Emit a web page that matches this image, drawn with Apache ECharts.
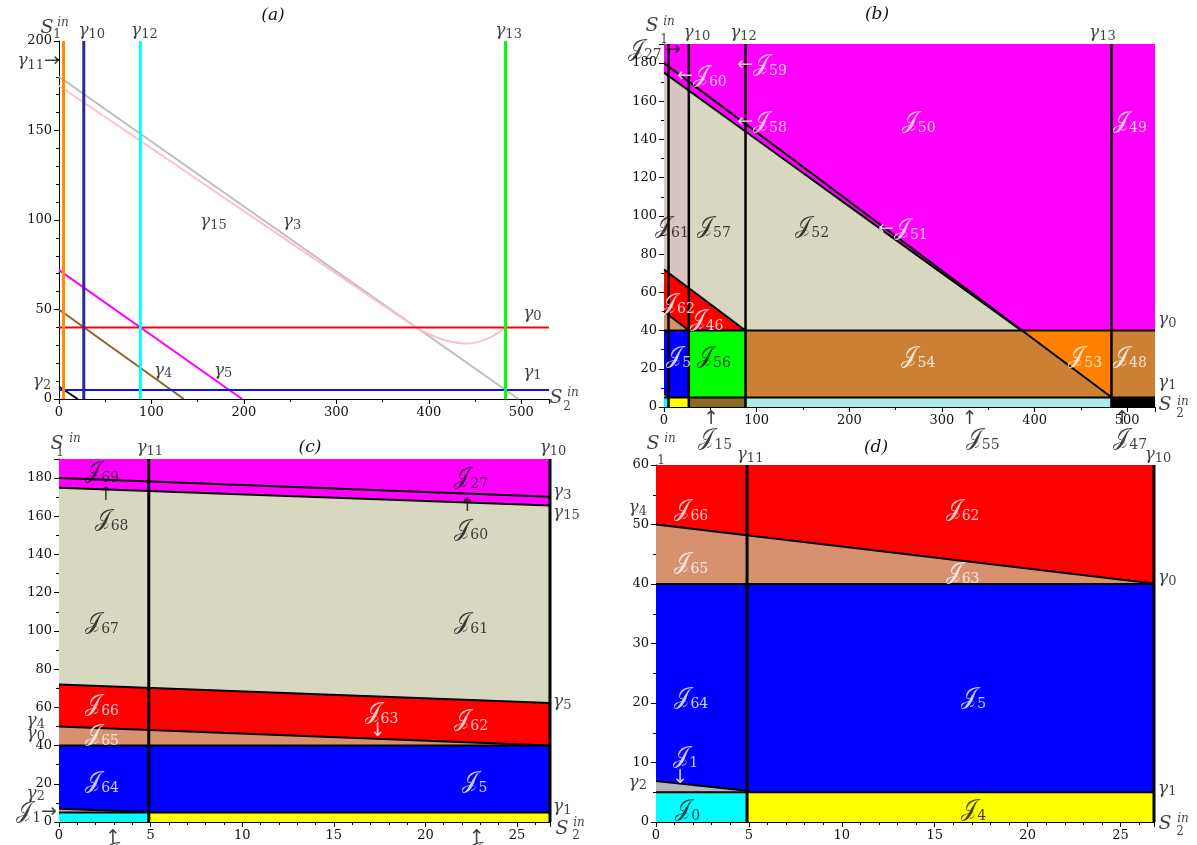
<!DOCTYPE html>
<html>
<head>
<meta charset="utf-8">
<script src="https://cdn.jsdelivr.net/npm/echarts@6/dist/echarts.min.js"></script>
<style>html,body{margin:0;background:#fff}#main{width:1197px;height:845px}</style>
</head>
<body>
<div id="main"></div>
<script>
// curves, as (S2in, S1in) pairs
const gamma2 = [[0, 6.9], [20.3, 0]];
const gamma3 = [[0, 180], [497, 0]];
const gamma4 = [[0, 50], [135, 0]];
const gamma5 = [[0, 72], [198, 0]];
const gamma15 = [[0, 175], [100, 140], [200, 105], [300, 70], [386, 40], [400, 36.3], [415, 33.2],
  [430, 31.4], [440, 31], [450, 31.5], [460, 33], [470, 35.4], [483, 40]];
// horizontal levels and vertical lines
const gamma0 = 40, gamma1 = 5;
const gamma11 = 4.9, gamma10 = 26.8, gamma12 = 88, gamma13 = 483;
const S2max = 530;
const S1maxA = 200, S1maxB = 190, S1maxC = 190, S1maxD = 60;

const C = {
  magenta: '#ff00ff', beige: '#d8d7bf', rose: '#d9c4c2', red: '#ff0000', salmon: '#d8916f',
  blue: '#0000ff', green: '#00ff00', peru: '#cc8033', orange: '#ff8000', gray: '#b4b4bf',
  cyan: '#00ffff', yellow: '#ffff00', brown: '#8c6a24', turq: '#aeeaea', black: '#000000'
};

const myChart = echarts.init(document.getElementById('main'));

// linear interpolation along a polyline
function at(line, x) {
  for (let i = 1; i < line.length; i++) {
    const [x0, y0] = line[i - 1], [x1, y1] = line[i];
    if (x <= x1) return y0 + (y1 - y0) * (x - x0) / (x1 - x0);
  }
  return line[line.length - 1][1];
}
const rect = (x0, x1, y0, y1) => [[x0, y0], [x0, y1], [x1, y1], [x1, y0]];
const seg = (line, x0, x1) => [[x0, at(line, x0)], [x1, at(line, x1)]];
const xMeet = gamma15.find(p => p[1] === gamma0)[0];

const grayJ1 = [[0, gamma1], [0, at(gamma2, 0)], [gamma11, at(gamma2, gamma11)], [gamma11, gamma1]];

const regionsB = [
  [rect(0, S2max, gamma0, S1maxB), C.magenta],
  [[[0, gamma0]].concat(gamma15.filter(p => p[0] <= xMeet)), C.beige],
  [[[0, at(gamma5, 0)], [0, at(gamma15, 0)], [gamma10, at(gamma15, gamma10)], [gamma10, at(gamma5, gamma10)]], C.rose],
  [[[0, gamma0], [0, at(gamma5, 0)], [gamma12, at(gamma5, gamma12)]], C.red],
  [[[0, gamma0], [0, at(gamma4, 0)], [gamma10, at(gamma4, gamma10)], [gamma10, gamma0]], C.salmon],
  [rect(0, gamma10, gamma1, gamma0), C.blue],
  [rect(gamma10, gamma12, gamma1, gamma0), C.green],
  [rect(gamma12, S2max, gamma1, gamma0), C.peru],
  [[[xMeet, gamma0], [gamma13, gamma0], [gamma13, at(gamma3, gamma13)]], C.orange],
  [grayJ1, C.gray],
  [rect(0, gamma11, 0, gamma1), C.cyan],
  [rect(gamma11, gamma10, 0, gamma1), C.yellow],
  [rect(gamma10, gamma12, 0, gamma1), C.brown],
  [rect(gamma12, gamma13, 0, gamma1), C.turq],
  [rect(gamma13, S2max, 0, gamma1), C.black]
];

const regionsCD = [
  [rect(0, gamma10, gamma0, S1maxC), C.magenta],
  [[[0, at(gamma5, 0)], [0, at(gamma15, 0)], [gamma10, at(gamma15, gamma10)], [gamma10, at(gamma5, gamma10)]], C.beige],
  [[[0, gamma0], [0, at(gamma5, 0)], [gamma10, at(gamma5, gamma10)], [gamma10, gamma0]], C.red],
  [[[0, gamma0], [0, at(gamma4, 0)], [gamma10, at(gamma4, gamma10)], [gamma10, gamma0]], C.salmon],
  [rect(0, gamma10, gamma1, gamma0), C.blue],
  [grayJ1, C.gray],
  [rect(0, gamma11, 0, gamma1), C.cyan],
  [rect(gamma11, gamma10, 0, gamma1), C.yellow]
];

// text helpers
const J = n => `{J|𝒥}{n|${n}}`;
const G = n => `{g|γ}{gn|${n}}`;
const RICH = {
  J: { fontFamily: 'DejaVu Serif', fontSize: 23, lineHeight: 26 },
  n: { fontFamily: 'DejaVu Serif', fontSize: 14, lineHeight: 17, verticalAlign: 'bottom' },
  g: { fontFamily: 'DejaVu Serif', fontStyle: 'italic', fontSize: 17, lineHeight: 20 },
  gn: { fontFamily: 'DejaVu Serif', fontSize: 13, lineHeight: 14, verticalAlign: 'bottom' },
  ar: { fontFamily: 'DejaVu Sans', fontSize: 19, lineHeight: 22 },
  S: { fontFamily: 'DejaVu Serif', fontStyle: 'italic', fontSize: 19 },
  sm: { fontFamily: 'DejaVu Serif', fontStyle: 'italic', fontSize: 12 },
  sd: { fontFamily: 'DejaVu Serif', fontSize: 12 }
};
function sLabel(x, y, sub, s, i, d) {
  return [
    { t: '{S|S}', x, y, dx: s[0], dy: s[1] },
    { t: '{sm|in}', x, y, dx: i[0], dy: i[1] },
    { t: `{sd|${sub}}`, x, y, dx: d[0], dy: d[1] }
  ];
}

const W = '#ffffff';
const labelsA = [
  { t: G(10), x: gamma10, y: S1maxA, dx: 8, dy: -10 },
  { t: G(12), x: gamma12, y: S1maxA, dx: 4, dy: -10 },
  { t: G(13), x: gamma13, y: S1maxA, dx: 3, dy: -10 },
  { t: G(11) + '{ar|→}', x: 0, y: 189, al: 'right', dx: 1 },
  { t: G(15), x: 167, y: 99 },
  { t: G(3), x: 252, y: 99 },
  { t: G(4), x: 112.6, y: 16 },
  { t: G(5), x: 177.5, y: 16 },
  { t: G(2), x: 0, y: 9.5, dx: -17 },
  { t: G(0), x: 512, y: 48 },
  { t: G(1), x: 512, y: 15 }
].concat(sLabel(0, S1maxA, 1, [-12, -13], [4, -18], [-2, -6]),
  sLabel(S2max, 0, 2, [7, -1], [24, -6], [18, 8]));

const labelsB = [
  { t: J(27) + ' {ar|→}', x: 0, y: 187, al: 'right', dx: 17 },
  { t: G(10), x: gamma10, y: S1maxB, dx: 8, dy: -11 },
  { t: G(12), x: gamma12, y: S1maxB, dx: -2, dy: -11 },
  { t: G(13), x: gamma13, y: S1maxB, dx: -9, dy: -11 },
  { t: '{ar|←}' + J(60), x: 14, y: 173, al: 'left', c: W },
  { t: '{ar|←}' + J(59), x: 79, y: 179, al: 'left', c: W },
  { t: '{ar|←}' + J(58), x: 79, y: 149, al: 'left', c: W },
  { t: J(50), x: 275, y: 149, c: W },
  { t: J(49), x: 503, y: 149, c: W },
  { t: J(61), x: 8.6, y: 94 },
  { t: J(57), x: 54, y: 94 },
  { t: J(52), x: 160, y: 94 },
  { t: '{ar|←}' + J(51), x: 231, y: 93, al: 'left', c: W },
  { t: J(62), x: 15, y: 54, c: W },
  { t: J(46), x: 46, y: 45.5, c: W },
  { t: J(5), x: 16, y: 26, c: W },
  { t: J(56), x: 54, y: 26 },
  { t: J(54), x: 274.6, y: 26, c: W },
  { t: J(53), x: 454.6, y: 26, c: W },
  { t: J(48), x: 503, y: 26, c: W },
  { t: G(0), x: S2max, y: 45.5, al: 'left', dx: 3 },
  { t: G(1), x: S2max, y: 13, al: 'left', dx: 3 },
  { t: '{ar|↑}', x: 51, y: 0, dy: 12 },
  { t: J(15), x: 51, y: 0, dx: 4, dy: 32 },
  { t: '{ar|↑}', x: 330, y: 0, dy: 12 },
  { t: J(55), x: 330, y: 0, dx: 13, dy: 32 },
  { t: '{ar|↑}', x: 494.6, y: 0, dy: 12 },
  { t: J(47), x: 494.6, y: 0, dx: 8, dy: 32 }
].concat(sLabel(0, S1maxB, 1, [-12, -18], [5, -22], [0, -4]),
  sLabel(S2max, 0, 2, [10, -2], [28, -5], [25, 7]));

const labelsC = [
  { t: G(11), x: gamma11, y: S1maxC, dx: 1, dy: -11 },
  { t: G(10), x: gamma10, y: S1maxC, dx: 3, dy: -11 },
  { t: J(69), x: 2.35, y: 183 },
  { t: '{ar|↑}', x: 2.56, y: 171 },
  { t: J(68), x: 2.87, y: 158 },
  { t: J(27), x: 22.5, y: 180 },
  { t: '{ar|↑}', x: 22.3, y: 165.4 },
  { t: J(60), x: 22.5, y: 153 },
  { t: J(67), x: 2.35, y: 104 },
  { t: J(61), x: 22.5, y: 104 },
  { t: J(66), x: 2.35, y: 61, c: W },
  { t: J(65), x: 2.35, y: 45.5, c: W },
  { t: J(63), x: 17.6, y: 57, c: W },
  { t: '{ar|↓}', x: 17.4, y: 47.6, c: W },
  { t: J(62), x: 22.5, y: 53.4, c: W },
  { t: J(64), x: 2.35, y: 21, c: W },
  { t: J(5), x: 22.7, y: 21, c: W },
  { t: J(1) + '{ar|→}', x: 0, y: 5.2, al: 'right', dx: -2 },
  { t: G(4), x: 0, y: 53, al: 'right', dx: -14 },
  { t: G(0), x: 0, y: 46.5, al: 'right', dx: -14 },
  { t: G(2), x: 0, y: 15, al: 'right', dx: -14 },
  { t: G(3), x: gamma10, y: 172.7, al: 'left', dx: 3 },
  { t: G(15), x: gamma10, y: 162, al: 'left', dx: 3 },
  { t: G(5), x: gamma10, y: 63, al: 'left', dx: 3 },
  { t: G(1), x: gamma10, y: 8, al: 'left', dx: 3 },
  { t: '{ar|↑}', x: 2.95, y: 0, dy: 16 },
  { t: J(0), x: 2.95, y: 0, dy: 31 },
  { t: '{ar|↑}', x: 22.8, y: 0, dy: 16 },
  { t: J(4), x: 22.8, y: 0, dy: 31 }
].concat(sLabel(0, S1maxC, 1, [-2, -15], [16, -20], [1, -6]),
  sLabel(gamma10, 0, 2, [12, 7], [29, 1], [26, 14]));

const labelsD = [
  { t: G(11), x: gamma11, y: S1maxD, dx: 3, dy: -10 },
  { t: G(10), x: gamma10, y: S1maxD, dx: 4, dy: -10 },
  { t: J(66), x: 1.9, y: 52.4, c: W },
  { t: J(62), x: 16.5, y: 52.4, c: W },
  { t: J(65), x: 1.9, y: 43.5, c: W },
  { t: J(63), x: 16.5, y: 41.8, c: W },
  { t: J(64), x: 1.9, y: 20.8, c: W },
  { t: J(5), x: 17.1, y: 20.8, c: W },
  { t: J(1), x: 1.6, y: 10.9, c: W },
  { t: '{ar|↓}', x: 1.3, y: 7.4, c: W },
  { t: J(0), x: 1.7, y: 2 },
  { t: J(4), x: 17.1, y: 2 },
  { t: G(4), x: 0, y: 52.8, al: 'right', dx: -9 },
  { t: G(2), x: 0, y: 6.7, al: 'right', dx: -9 },
  { t: G(0), x: gamma10, y: 41, al: 'left', dx: 4 },
  { t: G(1), x: gamma10, y: 5.7, al: 'left', dx: 4 }
].concat(sLabel(0, S1maxD, 1, [-3, -21], [14, -26], [5, -4]),
  sLabel(gamma10, 0, 2, [11, 2], [29, -3], [26, 10]));

// ---- series builders
function regionSeries(g, regions) {
  return {
    type: 'custom', xAxisIndex: g, yAxisIndex: g, clip: true, silent: true, z: 1,
    data: regions.map(r => r[0][0]),
    renderItem: (params, api) => {
      const r = regions[params.dataIndex];
      return {
        type: 'polygon',
        shape: { points: r[0].map(p => api.coord(p)) },
        style: { fill: r[1], stroke: r[1], lineWidth: 0.6 }
      };
    }
  };
}
function lineSeries(g, data, color, width, opts) {
  return Object.assign({
    type: 'line', xAxisIndex: g, yAxisIndex: g, data, symbol: 'none', silent: true, z: 3,
    lineStyle: { color, width }
  }, opts || {});
}
const vline = (g, x, ymax, color, width) => lineSeries(g, [[x, 0], [x, ymax]], color, width, { clip: false });
const hline = (g, y, xmax, color, width) => lineSeries(g, [[0, y], [xmax, y]], color, width);

function labelSeries(g, items) {
  return {
    type: 'scatter', xAxisIndex: g, yAxisIndex: g, symbolSize: 1, clip: false, silent: true, z: 10,
    itemStyle: { color: 'rgba(0,0,0,0)' },
    data: items.map(it => ({
      value: [it.x, it.y],
      label: {
        show: true, position: 'inside', formatter: () => it.t, color: it.c || '#111',
        align: it.al || 'center', verticalAlign: 'middle', offset: [it.dx || 0, it.dy || 0], rich: RICH
      }
    }))
  };
}

function axis(g, max, interval, minorSplit, showMax) {
  return {
    type: 'value', gridIndex: g, min: 0, max, interval,
    axisLine: { show: true, onZero: false, lineStyle: { color: '#000', width: 1 } },
    axisTick: { show: true, length: 5, lineStyle: { color: '#000' } },
    minorTick: { show: true, splitNumber: minorSplit, length: 3, lineStyle: { color: '#000' } },
    splitLine: { show: false },
    axisLabel: { color: '#111', fontFamily: 'DejaVu Serif', fontSize: 13, margin: 7, showMaxLabel: showMax }
  };
}

const series = [
  // (a)
  lineSeries(0, gamma3, '#bdbdbd', 2),
  lineSeries(0, gamma15, '#ffc0cb', 2, { smooth: 0.3 }),
  lineSeries(0, gamma5, '#ff00ff', 2),
  lineSeries(0, gamma4, '#8c6428', 2),
  lineSeries(0, gamma2, '#000', 2),
  hline(0, gamma0, S2max, '#ff0000', 2),
  hline(0, gamma1, S2max, '#1010ff', 2),
  vline(0, gamma11, S1maxA, '#ff8c00', 3),
  vline(0, gamma10, S1maxA, '#2b2b8f', 3),
  vline(0, gamma12, S1maxA, '#00ffff', 3),
  vline(0, gamma13, S1maxA, '#00ff00', 3),
  labelSeries(0, labelsA),
  // (b)
  regionSeries(1, regionsB),
  lineSeries(1, seg(gamma3, 0, gamma13), '#000', 2),
  lineSeries(1, gamma15.filter(p => p[0] <= xMeet), '#000', 2),
  lineSeries(1, seg(gamma5, 0, gamma12), '#000', 2),
  lineSeries(1, seg(gamma4, 0, gamma10), '#000', 2),
  lineSeries(1, seg(gamma2, 0, gamma11), '#000', 1.5),
  hline(1, gamma0, S2max, '#000', 2),
  hline(1, gamma1, S2max, '#000', 2),
  vline(1, gamma11, S1maxB, '#000', 2.5),
  vline(1, gamma10, S1maxB, '#000', 2.5),
  vline(1, gamma12, S1maxB, '#000', 2.5),
  vline(1, gamma13, S1maxB, '#000', 2.5),
  labelSeries(1, labelsB)
];
// (c) and (d) share the same picture at two vertical scales
[2, 3].forEach(g => {
  const ymax = g === 2 ? S1maxC : S1maxD;
  series.push(
    regionSeries(g, regionsCD),
    lineSeries(g, seg(gamma3, 0, gamma10), '#000', 2),
    lineSeries(g, seg(gamma15, 0, gamma10), '#000', 2),
    lineSeries(g, seg(gamma5, 0, gamma10), '#000', 2),
    lineSeries(g, seg(gamma4, 0, gamma10), '#000', 2),
    lineSeries(g, seg(gamma2, 0, gamma11), '#000', 2),
    hline(g, gamma0, gamma10, '#000', 2),
    hline(g, gamma1, gamma10, '#000', 2),
    vline(g, gamma11, ymax, '#000', 3),
    vline(g, gamma10, ymax, '#000', 3),
    labelSeries(g, g === 2 ? labelsC : labelsD)
  );
});

const title = (x, y, letter) => ({
  type: 'text', x, y, silent: true,
  style: { text: `(${letter})`, fontFamily: 'DejaVu Serif', fontStyle: 'italic', fontSize: 17, fill: '#111', align: 'center', verticalAlign: 'middle' }
});

const options = {
  animation: false,
  grid: [
    { left: 59, top: 41, width: 490, height: 358 },
    { left: 664, top: 44, width: 491, height: 363 },
    { left: 59, top: 459, width: 491, height: 363 },
    { left: 656, top: 465, width: 498, height: 357 }
  ],
  xAxis: [
    axis(0, S2max, 100, 2, false),
    axis(1, S2max, 100, 2, false),
    axis(2, gamma10, 5, 5, false),
    axis(3, gamma10, 5, 5, false)
  ],
  yAxis: [
    axis(0, S1maxA, 50, 5, true),
    axis(1, S1maxB, 20, 2, false),
    axis(2, S1maxC, 20, 2, false),
    axis(3, S1maxD, 10, 2, true)
  ],
  graphic: [title(273, 16, 'a'), title(877, 15, 'b'), title(310, 448, 'c'), title(876, 448, 'd')],
  series
};

myChart.setOption(options);
</script>
</body>
</html>
